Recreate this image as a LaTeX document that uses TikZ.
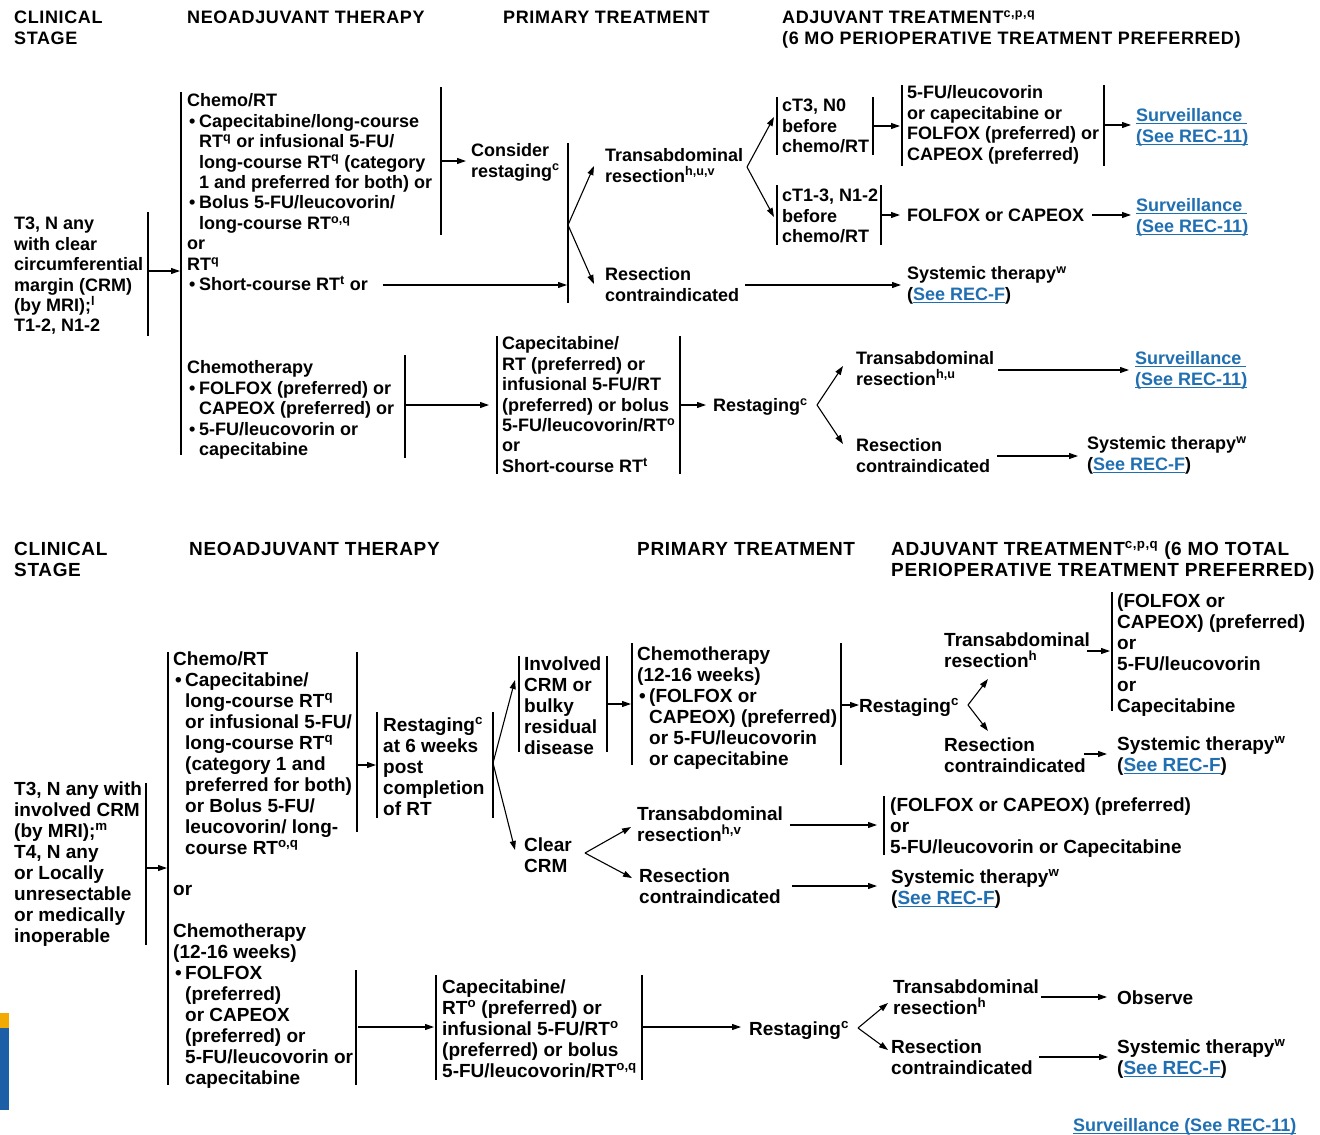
\documentclass[tikz,border=0pt]{standalone}
\usepackage{fontspec}
\setmainfont{Liberation Sans}
\newfontfamily\hdrf{Liberation Sans}[LetterSpace=3.5]
\usetikzlibrary{arrows.meta}
\definecolor{linkblue}{HTML}{1F6FB2}
\definecolor{logoorange}{HTML}{F2A900}
\definecolor{logoblue}{HTML}{1D5FA6}
\newcommand{\lnk}[1]{{\color{linkblue}\setbox0\hbox{#1}\rlap{\rule[-2.6pt]{\wd0}{1.1pt}}\box0}}
\newcommand{\st}{\rule{0pt}{18pt}}
\newcommand{\bul}{\makebox[12pt][l]{\hspace{2pt}\textbullet}}
\newcommand{\ind}{\hspace*{12pt}}
\newcommand{\up}[1]{\textsuperscript{#1}}
\begin{document}
\begin{tikzpicture}[x=1pt,y=-1pt,
 ta/.style={anchor=north west,inner sep=0pt,align=left,yshift=11.5pt,font=\bfseries\fontsize{18}{20.45}\selectfont},
 tb/.style={anchor=north west,inner sep=0pt,align=left,yshift=11.2pt,font=\bfseries\fontsize{19}{21}\selectfont},
 ha/.style={anchor=north west,inner sep=0pt,align=left,yshift=11.5pt,font=\hdrf\bfseries\fontsize{18}{21}\selectfont},
 hb/.style={anchor=north west,inner sep=0pt,align=left,yshift=11.2pt,font=\hdrf\bfseries\fontsize{19}{21}\selectfont},
 bar/.style={line width=1.1pt},
 arr/.style={line width=1.1pt,-{Triangle[length=9pt,width=6pt]}}]
\fill[white] (0,0) rectangle (1320,1135);
\useasboundingbox (0,0) rectangle (1320,1135);
% logo fragment
\fill[logoorange] (0,1013) rectangle (9,1028);
\fill[logoblue] (0,1028) rectangle (9,1110);

% ================= TOP SECTION =================
\node[ha] (h1) at (14,17) {\st CLINICAL\\STAGE};
\node[ha] (h2) at (187,17) {\st NEOADJUVANT THERAPY};
\node[ha] (h3) at (503,17) {\st PRIMARY TREATMENT};
\node[ha] (h4) at (782,17) {\st ADJUVANT TREATMENT\up{c,p,q}\\(6 MO PERIOPERATIVE TREATMENT PREFERRED)};

\node[ta] (stage1) at (14,223) {\st T3, N any\\with clear\\circumferential\\margin (CRM)\\(by MRI);\up{l}\\T1-2, N1-2};
\node[ta] (crt1) at (187,100) {\st Chemo/RT\\
\bul Capecitabine/long-course\\
\ind RT\up{q} or infusional 5-FU/\\
\ind long-course RT\up{q} (category\\
\ind 1 and preferred for both) or\\
\bul Bolus 5-FU/leucovorin/\\
\ind long-course RT\up{o,q}\\
or\\
RT\up{q}\\
\bul Short-course RT\up{t} or};
\node[ta] (chemo1) at (187,367) {\st Chemotherapy\\
\bul FOLFOX (preferred) or\\
\ind CAPEOX (preferred) or\\
\bul 5-FU/leucovorin or\\
\ind capecitabine};
\node[ta] (cons) at (471,150) {\st Consider\\restaging\up{c}};
\node[ta] (trans1) at (605,155) {\st Transabdominal\\resection\up{h,u,v}};
\node[ta] (rc1) at (605,274) {\st Resection\\contraindicated};
\node[ta] (ct3) at (782,105) {\st cT3, N0\\before\\chemo/RT};
\node[ta] (ct1) at (782,195) {\st cT1-3, N1-2\\before\\chemo/RT};
\node[ta] (fu1) at (907,92) {\st 5-FU/leucovorin\\or capecitabine or\\FOLFOX (preferred) or\\CAPEOX (preferred)};
\node[ta] (fc1) at (907,215) {\st FOLFOX or CAPEOX};
\node[ta] (surv1) at (1136,115) {\st\lnk{Surveillance }\\\lnk{(See REC-11)}};
\node[ta] (surv2) at (1136,205) {\st\lnk{Surveillance }\\\lnk{(See REC-11)}};
\node[ta] (sys1) at (907,273) {\st Systemic therapy\up{w}\\(\lnk{See REC-F})};
\node[ta] (cape1) at (502,343) {\st Capecitabine/\\RT (preferred) or\\infusional 5-FU/RT\\(preferred) or bolus\\5-FU/leucovorin/RT\up{o}\\or\\Short-course RT\up{t}};
\node[ta] (rest1) at (713,405) {\st Restaging\up{c}};
\node[ta] (trans2) at (856,358) {\st Transabdominal\\resection\up{h,u}};
\node[ta] (surv3) at (1135,358) {\st\lnk{Surveillance }\\\lnk{(See REC-11)}};
\node[ta] (rc2) at (856,445) {\st Resection\\contraindicated};
\node[ta] (sys2) at (1087,443) {\st Systemic therapy\up{w}\\(\lnk{See REC-F})};

% bars (top)
\draw[bar] (148,212) -- (148,336);
\draw[bar] (181,92) -- (181,455);
\draw[bar] (441,87) -- (441,235);
\draw[bar] (568,143) -- (568,303);
\draw[bar] (777,97) -- (777,155);
\draw[bar] (873,97) -- (873,155);
\draw[bar] (902,85) -- (902,166);
\draw[bar] (1104,85) -- (1104,166);
\draw[bar] (777,185) -- (777,245);
\draw[bar] (881,185) -- (881,245);
\draw[bar] (405,355) -- (405,458);
\draw[bar] (497,336) -- (497,474);
\draw[bar] (680,336) -- (680,474);

% connectors (top)
\coordinate (a1s) at (148,271); \coordinate (a1e) at (180,271);
\draw[arr] (a1s) -- (a1e);
\coordinate (a2s) at (441,161); \coordinate (a2e) at (466,161);
\draw[arr] (a2s) -- (a2e);
\coordinate (a3s) at (383,285); \coordinate (a3e) at (567,285);
\draw[arr] (a3s) -- (a3e);
\coordinate (f1) at (568,225);
\coordinate (f1u) at (594,166); \coordinate (f1d) at (594,284);
\draw[arr] (f1) -- (f1u);
\draw[arr] (f1) -- (f1d);
\coordinate (f2) at (747,167);
\coordinate (f2u) at (774,117); \coordinate (f2d) at (774,217);
\draw[arr] (f2) -- (f2u);
\draw[arr] (f2) -- (f2d);
\coordinate (a4s) at (873,126); \coordinate (a4e) at (900,126);
\draw[arr] (a4s) -- (a4e);
\coordinate (a5s) at (1104,125); \coordinate (a5e) at (1131,125);
\draw[arr] (a5s) -- (a5e);
\coordinate (a6s) at (881,215); \coordinate (a6e) at (900,215);
\draw[arr] (a6s) -- (a6e);
\coordinate (a7s) at (1092,215); \coordinate (a7e) at (1131,215);
\draw[arr] (a7s) -- (a7e);
\coordinate (a8s) at (745,285); \coordinate (a8e) at (901,285);
\draw[arr] (a8s) -- (a8e);
\coordinate (a9s) at (406,405); \coordinate (a9e) at (489,405);
\draw[arr] (a9s) -- (a9e);
\coordinate (a10s) at (680,405); \coordinate (a10e) at (706,405);
\draw[arr] (a10s) -- (a10e);
\coordinate (f3) at (817,405);
\coordinate (f3u) at (843,366); \coordinate (f3d) at (843,444);
\draw[arr] (f3) -- (f3u);
\draw[arr] (f3) -- (f3d);
\coordinate (a11s) at (998,370); \coordinate (a11e) at (1129,370);
\draw[arr] (a11s) -- (a11e);
\coordinate (a12s) at (997,456); \coordinate (a12e) at (1078,456);
\draw[arr] (a12s) -- (a12e);

% ================= BOTTOM SECTION =================
\node[hb] (h5) at (14,548) {\st CLINICAL\\STAGE};
\node[hb] (h6) at (189,548) {\st NEOADJUVANT THERAPY};
\node[hb] (h7) at (637,548) {\st PRIMARY TREATMENT};
\node[hb] (h8) at (891,548) {\st ADJUVANT TREATMENT\up{c,p,q} (6 MO TOTAL\\PERIOPERATIVE TREATMENT PREFERRED)};

\node[tb] (stage2) at (14,788) {\st T3, N any with\\involved CRM\\(by MRI);\up{m}\\T4, N any\\or Locally\\unresectable\\or medically\\inoperable};
\node[tb] (crt2) at (173,658) {\st Chemo/RT\\
\bul Capecitabine/\\
\ind long-course RT\up{q}\\
\ind or infusional 5-FU/\\
\ind long-course RT\up{q}\\
\ind (category 1 and\\
\ind preferred for both)\\
\ind or Bolus 5-FU/\\
\ind leucovorin/ long-\\
\ind course RT\up{o,q}};
\node[tb] (or2) at (173,888) {\st or};
\node[tb] (chemo3) at (173,930) {\st Chemotherapy\\
(12-16 weeks)\\
\bul FOLFOX\\
\ind (preferred)\\
\ind or CAPEOX\\
\ind (preferred) or\\
\ind 5-FU/leucovorin or\\
\ind capecitabine};
\node[tb] (rest6) at (383,724) {\st Restaging\up{c}\\at 6 weeks\\post\\completion\\of RT};
\node[tb] (invol) at (524,663) {\st Involved\\CRM or\\bulky\\residual\\disease};
\node[tb] (chemo4) at (637,653) {\st Chemotherapy\\
(12-16 weeks)\\
\bul (FOLFOX or\\
\ind CAPEOX) (preferred)\\
\ind or 5-FU/leucovorin\\
\ind or capecitabine};
\node[tb] (rest2) at (859,705) {\st Restaging\up{c}};
\node[tb] (trans3) at (944,639) {\st Transabdominal\\resection\up{h}};
\node[tb] (adj1) at (1117,600) {\st (FOLFOX or\\CAPEOX) (preferred)\\or\\5-FU/leucovorin\\or\\Capecitabine};
\node[tb] (rc3) at (944,744) {\st Resection\\contraindicated};
\node[tb] (sys3) at (1117,743) {\st Systemic therapy\up{w}\\(\lnk{See REC-F})};
\node[tb] (clear) at (524,844) {\st Clear\\CRM};
\node[tb] (trans4) at (637,813) {\st Transabdominal\\resection\up{h,v}};
\node[tb] (adj2) at (890,804) {\st (FOLFOX or CAPEOX) (preferred)\\or\\5-FU/leucovorin or Capecitabine};
\node[tb] (rc4) at (639,875) {\st Resection\\contraindicated};
\node[tb] (sys4) at (891,876) {\st Systemic therapy\up{w}\\(\lnk{See REC-F})};
\node[tb] (cape2) at (442,986) {\st Capecitabine/\\RT\up{o} (preferred) or\\infusional 5-FU/RT\up{o}\\(preferred) or bolus\\5-FU/leucovorin/RT\up{o,q}};
\node[tb] (rest3) at (749,1028) {\st Restaging\up{c}};
\node[tb] (trans5) at (893,986) {\st Transabdominal\\resection\up{h}};
\node[tb] (obs) at (1117,997) {\st Observe};
\node[tb] (rc5) at (891,1046) {\st Resection\\contraindicated};
\node[tb] (sys5) at (1117,1046) {\st Systemic therapy\up{w}\\(\lnk{See REC-F})};
\node[ta] (surv4) at (1073,1125) {\st\lnk{Surveillance (See REC-11)}};

% bars (bottom)
\draw[bar] (146,783) -- (146,945);
\draw[bar] (168,652) -- (168,1085);
\draw[bar] (357,652) -- (357,832);
\draw[bar] (377,712) -- (377,818);
\draw[bar] (493,712) -- (493,818);
\draw[bar] (519,656) -- (519,752);
\draw[bar] (607,656) -- (607,752);
\draw[bar] (632,643) -- (632,765);
\draw[bar] (841,643) -- (841,765);
\draw[bar] (1112,592) -- (1112,711);
\draw[bar] (884,796) -- (884,855);
\draw[bar] (356,970) -- (356,1085);
\draw[bar] (436,975) -- (436,1080);
\draw[bar] (642,975) -- (642,1080);

% connectors (bottom)
\coordinate (b1s) at (146,868); \coordinate (b1e) at (167,868);
\draw[arr] (b1s) -- (b1e);
\coordinate (b2s) at (357,765); \coordinate (b2e) at (376,765);
\draw[arr] (b2s) -- (b2e);
\coordinate (g1) at (493,763);
\coordinate (g1u) at (515,680); \coordinate (g1d) at (515,850);
\draw[arr] (g1) -- (g1u);
\draw[arr] (g1) -- (g1d);
\coordinate (b3s) at (607,704); \coordinate (b3e) at (631,704);
\draw[arr] (b3s) -- (b3e);
\coordinate (b4s) at (841,705); \coordinate (b4e) at (859,705);
\draw[arr] (b4s) -- (b4e);
\coordinate (g2) at (968,705);
\coordinate (g2u) at (988,679); \coordinate (g2d) at (988,731);
\draw[arr] (g2) -- (g2u);
\draw[arr] (g2) -- (g2d);
\coordinate (b5s) at (1087,651); \coordinate (b5e) at (1110,651);
\draw[arr] (b5s) -- (b5e);
\coordinate (b6s) at (1084,754); \coordinate (b6e) at (1107,754);
\draw[arr] (b6s) -- (b6e);
\coordinate (g3) at (585,853);
\coordinate (g3u) at (631,827); \coordinate (g3d) at (632,878);
\draw[arr] (g3) -- (g3u);
\draw[arr] (g3) -- (g3d);
\coordinate (b7s) at (790,825); \coordinate (b7e) at (877,825);
\draw[arr] (b7s) -- (b7e);
\coordinate (b8s) at (792,886); \coordinate (b8e) at (877,886);
\draw[arr] (b8s) -- (b8e);
\coordinate (b9s) at (358,1027); \coordinate (b9e) at (434,1027);
\draw[arr] (b9s) -- (b9e);
\coordinate (b10s) at (642,1027); \coordinate (b10e) at (741,1027);
\draw[arr] (b10s) -- (b10e);
\coordinate (g4) at (858,1028);
\coordinate (g4u) at (888,1003); \coordinate (g4d) at (888,1050);
\draw[arr] (g4) -- (g4u);
\draw[arr] (g4) -- (g4d);
\coordinate (b11s) at (1041,997); \coordinate (b11e) at (1107,997);
\draw[arr] (b11s) -- (b11e);
\coordinate (b12s) at (1039,1057); \coordinate (b12e) at (1108,1057);
\draw[arr] (b12s) -- (b12e);
\end{tikzpicture}
\end{document}
